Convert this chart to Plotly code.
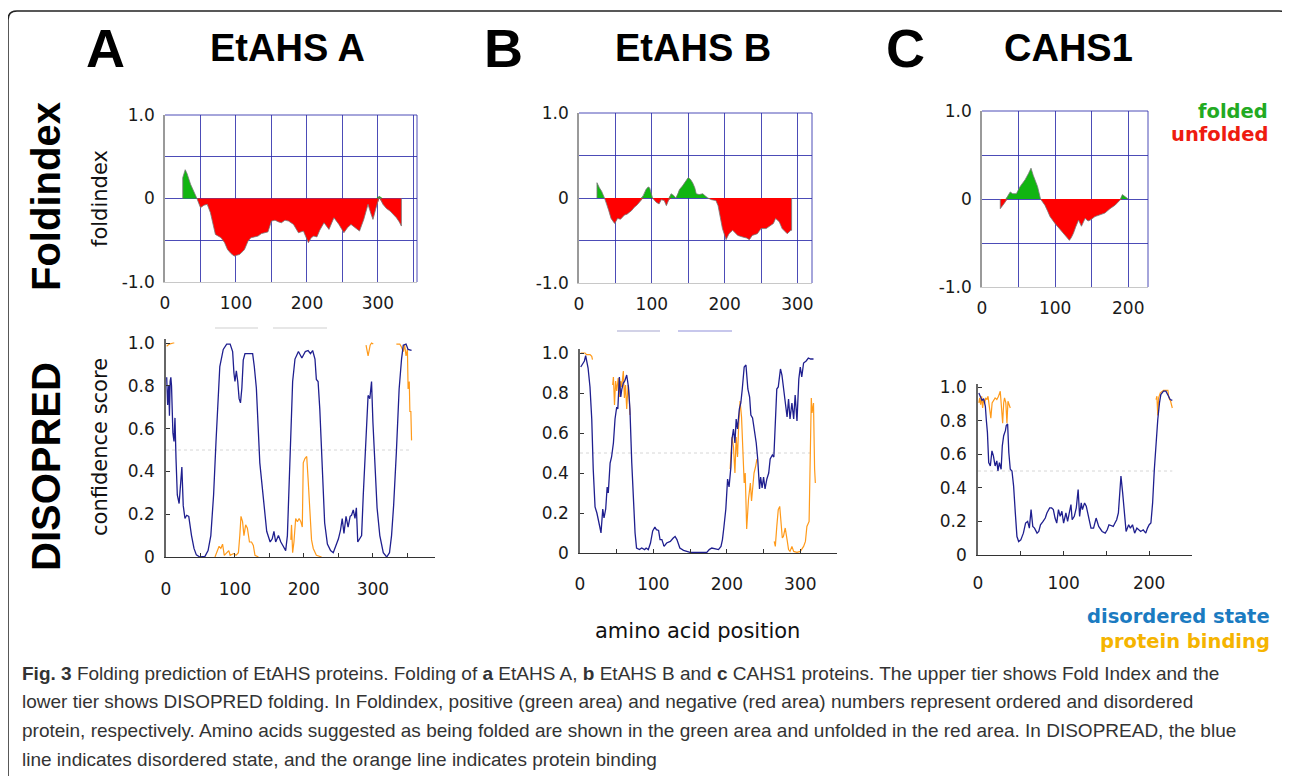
import plotly.graph_objects as go

W, H = 1290, 776
OFF = 8  # page body margin of the viewer
def px(x): return (x - OFF) / W
def py(y): return 1 - (y - OFF) / H

# ---------------- DATA ----------------
# Foldindex (residue, index)
fi_a_x = [25,25,28.5,31,36,40,45,50,55,59.5,64,71,75,79,84,88,93,97.6,101,105,110,112,117,121,126,131,136,140,145,150,155,160,164,169,174,181,188,195,202,206,209.5,214,218,224,228,231,238,245,252,257,262,268,274,280,286,290,293,297,302,307,312,317,322,326,330,333,333]
fi_a_y = [0,0.25,0.345,0.30,0.17,0.10,0,-0.11,-0.08,-0.07,-0.17,-0.43,-0.45,-0.47,-0.53,-0.61,-0.66,-0.69,-0.68,-0.67,-0.63,-0.61,-0.51,-0.47,-0.46,-0.45,-0.42,-0.41,-0.40,-0.27,-0.26,-0.28,-0.29,-0.26,-0.27,-0.31,-0.41,-0.39,-0.53,-0.47,-0.45,-0.46,-0.38,-0.29,-0.33,-0.37,-0.23,-0.31,-0.41,-0.35,-0.31,-0.35,-0.39,-0.25,-0.07,-0.18,-0.25,-0.12,0.03,-0.07,-0.12,-0.15,-0.19,-0.23,-0.28,-0.33,0]

fi_b_x = [24.7,24.7,28,31,35,38,41,44,47,49,53,57,62.5,66,69,72,76,80,85,88.6,92,95,97,99,101,106,110,113,117,120,123,126.5,130,133,136,138,142,145,150,153,156,159,161,165,170,174,177,182,188,191,193,197,202,206,211,215,218,225,230,234,238,245,250,257,263,267,270,275,279,286,291,292,292]
fi_b_y = [0,0.18,0.12,0.08,0,-0.07,-0.15,-0.24,-0.28,-0.30,-0.24,-0.25,-0.20,-0.19,-0.17,-0.15,-0.11,-0.08,-0.03,0.03,0.10,0.13,0.12,0.06,0,-0.05,-0.07,-0.02,-0.03,-0.09,-0.03,0.05,0.03,0,0.05,0.10,0.14,0.18,0.24,0.22,0.18,0.12,0.05,0.04,0.05,0.02,0,-0.02,-0.03,-0.09,-0.17,-0.36,-0.49,-0.42,-0.38,-0.41,-0.44,-0.46,-0.47,-0.49,-0.44,-0.42,-0.36,-0.36,-0.32,-0.30,-0.24,-0.28,-0.36,-0.42,-0.38,-0.38,0]

fi_c_x = [25,25,28.6,32,35,38.6,42,47,52,56,59,63.6,67,70,73,76,80,86,90,93,100,107,114,119.5,122,125,128,132,136,141,145,148,154.5,161,168,175,182,189,192,195,200]
fi_c_y = [0,-0.11,-0.07,-0.03,0.03,0.08,0.06,0.06,0.14,0.18,0.22,0.29,0.35,0.27,0.21,0.14,0,-0.07,-0.14,-0.20,-0.28,-0.35,-0.41,-0.47,-0.44,-0.39,-0.32,-0.24,-0.31,-0.22,-0.25,-0.24,-0.20,-0.18,-0.16,-0.11,-0.07,-0.01,0.05,0.03,0]

# DISOPRED disordered state (blue)
dis_a_x = [1,2.4,4,5,6,7,8,10,11.6,13,14.5,16.4,19,21,23,25,27.5,30,33,37,40.6,44,49,56.5,61,65,69,72.5,76,78,83,88,93,96.6,98.5,100,102,104,106,108,110,112,114.5,125.6,128,131,136,139,142,146,151,154,156.5,159,163,166.5,170,173.5,176,178,181,183.6,187,192,197,202,206,209.5,212.6,216,218,220.5,223,227,230,234,238.6,242.5,246,250,253,255.5,258,261,264,267,269,271.5,274,276,278,281,283.6,286,288,291,293,295.5,298,300,303,306,310,315,320,324,327,330,334,338,341.5,344,348,351,356]
dis_a_y = [0.84,0.71,0.80,0.66,0.82,0.84,0.80,0.58,0.54,0.65,0.46,0.29,0.25,0.35,0.42,0.24,0.18,0.195,0.19,0.10,0.04,0.01,0,0.003,0.03,0.10,0.29,0.54,0.77,0.89,0.97,0.995,0.995,0.96,0.86,0.82,0.87,0.82,0.74,0.72,0.79,0.92,0.95,0.95,0.89,0.79,0.44,0.35,0.23,0.12,0.07,0.085,0.12,0.07,0.10,0.07,0.05,0.03,0.10,0.29,0.58,0.82,0.925,0.96,0.93,0.96,0.965,0.95,0.965,0.925,0.83,0.82,0.69,0.40,0.16,0.06,0.03,0.02,0.05,0.085,0.125,0.18,0.11,0.19,0.14,0.19,0.195,0.22,0.18,0.23,0.07,0.085,0.10,0.29,0.44,0.66,0.755,0.74,0.82,0.63,0.43,0.23,0.10,0.02,0,0.02,0.10,0.24,0.49,0.785,0.925,0.99,0.995,0.97,0.965]

dis_b_x = [1,3.6,6,7.7,9,11,13.6,16,18,20.5,23,25,27,28.6,31,32.7,35,37,38.5,41,43,45.5,47.7,50,51.5,53.6,55.5,57,59,61,63.6,66,68,70.5,72.7,75,77,81,84,88,90,93,96,99,102,104,107,109,111.5,114.5,118,123,127,129.5,132,134,136,141,146,150,172.7,176,179.5,184,188.6,192,194,196,198.6,201,203,205.5,207,209,211,212.7,214.5,217,219,221,223.6,226,228.6,231,232.7,235,237,240,242,243,244.5,246,248,250,252,254.5,257,259,262,264,266,268,270,273,275,277,279.5,282,284,286,288.6,291,293,295.5,298,300,302,304.5,308,311,314,318]
dis_b_y = [0.93,0.95,0.96,0.987,0.96,0.925,0.83,0.67,0.42,0.23,0.20,0.17,0.13,0.10,0.22,0.175,0.22,0.33,0.30,0.45,0.48,0.55,0.67,0.73,0.72,0.88,0.78,0.82,0.85,0.86,0.89,0.83,0.72,0.45,0.23,0.10,0.025,0.017,0.025,0.017,0.025,0.017,0.05,0.11,0.13,0.117,0.113,0.067,0.067,0.033,0.05,0.058,0.075,0.083,0.067,0.05,0.025,0.013,0.008,0.003,0.003,0.017,0.025,0.02,0.017,0.033,0.067,0.13,0.22,0.37,0.33,0.43,0.57,0.62,0.55,0.67,0.62,0.72,0.75,0.82,0.93,0.94,0.82,0.78,0.69,0.675,0.63,0.55,0.47,0.37,0.32,0.38,0.325,0.38,0.32,0.37,0.40,0.47,0.49,0.48,0.67,0.82,0.83,0.92,0.89,0.83,0.75,0.68,0.77,0.67,0.75,0.67,0.79,0.66,0.87,0.93,0.88,0.95,0.96,0.975,0.97,0.97]

dis_c_x = [1,3,4.7,6.6,8.6,9.7,11,12.5,14.4,16.3,18,20,22,23.3,25,27,28.4,30,32,33,34.6,36,37.7,39.7,41.6,43.6,45.5,47.5,50,53,55.6,58,60,62,64,66,69,71,73,76,78.6,80.5,83.7,86,88,90,92,94,96,98,100,102.7,104.7,106.6,108.6,110,112.5,114.8,117,118.7,120.6,122,124.5,126.5,129,132,135,138,141,145,148.6,151,153,155.5,158,160,162,164,165.4,167,169,171,173,176,178,180.5,183,185.6,188,190,193,196,198,200,202,204,206,208,210,212,213.6,216.7,219.5,222.6,224.5,227]
dis_c_y = [0.965,0.945,0.92,0.93,0.885,0.805,0.73,0.55,0.53,0.62,0.59,0.53,0.56,0.50,0.55,0.51,0.65,0.71,0.74,0.77,0.78,0.61,0.51,0.50,0.41,0.25,0.11,0.08,0.09,0.13,0.19,0.20,0.16,0.27,0.17,0.16,0.13,0.14,0.18,0.20,0.22,0.25,0.28,0.28,0.27,0.22,0.19,0.27,0.23,0.26,0.19,0.25,0.20,0.25,0.30,0.21,0.23,0.28,0.39,0.23,0.31,0.27,0.31,0.29,0.23,0.16,0.16,0.22,0.17,0.14,0.13,0.15,0.18,0.175,0.17,0.19,0.21,0.25,0.35,0.47,0.37,0.23,0.14,0.18,0.16,0.18,0.13,0.16,0.15,0.14,0.15,0.13,0.16,0.18,0.19,0.31,0.51,0.67,0.805,0.905,0.955,0.975,0.975,0.945,0.925,0.92]

# DISOPRED protein binding (orange); None separates segments
bind_a_x = [1,4.7,10.6,12,None,71,74,77,79.5,82,84.5,88,91,93,98,101.5,105,107,108.7,111,113,115.5,118,121,124,126.6,129,134,None,181,182,183.6,185.5,188,190.5,193,195.5,197.6,199,201.4,204,206,208.7,211,213.5,218,225.6,None,290,293,296,298,300.5,None,334,339,341.5,344,346,348,350,351,352.7,353.6,355,356]
bind_a_y = [0.985,0.995,1.0,1.0,None,0,0.03,0.05,0.04,0.06,0.008,0.02,0.03,0.008,0.016,0.008,0.02,0.10,0.19,0.165,0.10,0.15,0.135,0.07,0.07,0.054,0.008,0,None,0.08,0.15,0.02,0.07,0.18,0.165,0.18,0.165,0.14,0.44,0.46,0.47,0.365,0.225,0.08,0.04,0.008,0,None,0.99,0.94,0.99,1.0,0.995,None,0.995,0.995,0.98,0.96,0.99,0.94,0.97,0.785,0.82,0.68,0.68,0.545]

bind_b_x = [1,4.5,6.8,9,13.6,16,17,None,44.5,45.5,47,48.5,50,52,53.6,55.5,56.8,59,60.5,62,63.6,65.5,67,68,None,204.5,207,209,211,212.7,214.5,216,218,220,222,223.6,225,227,229.5,232,233.6,235,237,239,241,None,264.5,266,268,270,272,273.6,275.5,277,279.5,282,284,286,288.6,291,295.5,300,304.5,307,309,312,313.6,315,316,318,319.5,320.5]
bind_b_y = [1.0,1.0,1.0,0.992,0.992,0.983,0.967,None,0.84,0.88,0.74,0.86,0.81,0.875,0.78,0.86,0.83,0.91,0.775,0.84,0.72,0.84,0.78,0.69,None,0.42,0.58,0.53,0.40,0.58,0.48,0.63,0.76,0.68,0.47,0.35,0.40,0.12,0.27,0.35,0.26,0.33,0.40,0.43,0.47,None,0.058,0.033,0.133,0.217,0.233,0.167,0.075,0.083,0.125,0.067,0.017,0.008,0.033,0.008,0.003,0.008,0.033,0.058,0.133,0.158,0.5,0.775,0.70,0.75,0.42,0.35]

bind_c_x = [1,2,3.1,4.3,5.4,6.6,7.8,9,10.5,11.7,13.2,15,16.5,18,20,22,24,26,27,28.8,30,31,32.5,33.8,35,36.5,37.7,None,208,209,210,211,213,215,216.7,219.8,221.8,223,225,227]
bind_c_y = [0.905,0.935,0.895,0.945,0.875,0.925,0.905,0.935,0.925,0.945,0.885,0.815,0.905,0.915,0.935,0.925,0.945,0.975,0.885,0.785,0.905,0.935,0.905,0.785,0.915,0.895,0.875,None,0.925,0.945,0.83,0.935,0.965,0.975,0.98,0.98,0.98,0.935,0.915,0.875]

# threshold lines (DISOPRED cut-off 0.5)
thr_a_x, thr_b_x, thr_c_x = [0, 356], [0, 320], [0, 227]
thr_y = [0.5, 0.5]

# tick labels
fi_y_vals = [-1, -0.5, 0, 0.5, 1]
fi_y_text = ["-1.0", "", "0", "", "1.0"]
dis_y_vals = [0, 0.2, 0.4, 0.6, 0.8, 1.0]
dis_y_text = ["0", "0.2", "0.4", "0.6", "0.8", "1.0"]

# ---------------- STYLE ----------------
GRID = "rgba(45,45,170,0.85)"
BLUE = "#1f1f8f"
ORANGE = "#ff9a1a"
GREEN = "#11b511"
RED = "#ff0000"
TICKFONT = dict(family="DejaVu Sans", size=17, color="#1a1a1a")

fig = go.Figure()
layout = dict(template="none", width=W, height=H, autosize=False,
              margin=dict(l=0, r=0, t=0, b=0, pad=0, autoexpand=False),
              paper_bgcolor="white", plot_bgcolor="white", showlegend=False)
shapes = []

def sfx(n):
    return "" if n == 1 else str(n)

def xticks(xmax):
    vals = list(range(0, int(xmax) + 1, 50))
    text = [str(v) if v % 100 == 0 else "" for v in vals]
    return vals, text

# Foldindex panels: (n, x0px, x1px, y0px(top), y1px(bottom), xmax, xs, ys)
fi_panels = [
    (1, 165, 417, 115, 282, 355, fi_a_x, fi_a_y),
    (2, 579, 812, 113, 283, 320, fi_b_x, fi_b_y),
    (3, 982, 1148, 111, 287, 227, fi_c_x, fi_c_y),
]
for n, x0, x1, y0, y1, xmax, xs, ys in fi_panels:
    xa, ya = "x" + sfx(n), "y" + sfx(n)
    pos = [max(v, 0) for v in ys]
    neg = [min(v, 0) for v in ys]
    fig.add_trace(go.Scatter(x=xs, y=pos, mode="lines", fill="tozeroy", fillcolor=GREEN,
                             line=dict(width=0, color=GREEN), xaxis=xa, yaxis=ya, hoverinfo="skip"))
    fig.add_trace(go.Scatter(x=xs, y=neg, mode="lines", fill="tozeroy", fillcolor=RED,
                             line=dict(width=0, color=RED), xaxis=xa, yaxis=ya, hoverinfo="skip"))
    fig.add_trace(go.Scatter(x=xs, y=ys, mode="lines", line=dict(width=1, color="rgba(120,120,120,0.8)"),
                             xaxis=xa, yaxis=ya, hoverinfo="skip"))
    tv, tt = xticks(xmax)
    layout["xaxis" + sfx(n)] = dict(domain=[px(x0), px(x1)], range=[0, xmax], anchor=ya, automargin=False,
                               tickvals=tv, ticktext=tt, showgrid=True, gridcolor=GRID, gridwidth=1,
                               zeroline=False, showline=True, linecolor="#c8c8c8", linewidth=1,
                               ticks="", tickfont=TICKFONT, ticklabelstandoff=6, layer="below traces")
    layout["yaxis" + sfx(n)] = dict(domain=[py(y1), py(y0)], range=[-1, 1], anchor=xa, automargin=False,
                               tickvals=fi_y_vals, ticktext=fi_y_text, showgrid=True, gridcolor=GRID,
                               zeroline=False, showline=True, linecolor="#9a9a9a", linewidth=1.5,
                               ticks="", tickfont=TICKFONT, ticklabelstandoff=5)
    shapes.append(dict(type="line", xref=f"{xa} domain", yref=f"{ya} domain", x0=0, x1=1, y0=1, y1=1,
                       line=dict(color=GRID, width=1)))
    shapes.append(dict(type="line", xref=f"{xa} domain", yref=f"{ya} domain", x0=1, x1=1, y0=0, y1=1,
                       line=dict(color=GRID, width=1)))

# DISOPRED panels
dis_panels = [
    (4, 166, 435, 557, 343, 390, dis_a_x, dis_a_y, bind_a_x, bind_a_y, thr_a_x, 16),
    (5, 580, 837, 553, 353, 350, dis_b_x, dis_b_y, bind_b_x, bind_b_y, thr_b_x, 15),
    (6, 978, 1192, 555, 387, 250, dis_c_x, dis_c_y, bind_c_x, bind_c_y, thr_c_x, 12),
]
YTOP = 1.02
for n, x0, x1, zpx, opx, xmax, bx, by, ox, oy, tx, stand in dis_panels:
    xa, ya = "x" + sfx(n), "y" + sfx(n)
    top_px = zpx - YTOP * (zpx - opx)
    fig.add_trace(go.Scatter(x=tx, y=thr_y, mode="lines", line=dict(width=1, color="#d6d6d6", dash="dot"),
                             xaxis=xa, yaxis=ya, hoverinfo="skip"))
    fig.add_trace(go.Scatter(x=ox, y=oy, mode="lines", line=dict(width=1.2, color=ORANGE),
                             connectgaps=False, xaxis=xa, yaxis=ya, hoverinfo="skip"))
    fig.add_trace(go.Scatter(x=bx, y=by, mode="lines", line=dict(width=1.3, color=BLUE),
                             xaxis=xa, yaxis=ya, hoverinfo="skip"))
    tv, tt = xticks(xmax)
    layout["xaxis" + sfx(n)] = dict(domain=[px(x0), px(x1)], range=[0, xmax], anchor=ya, automargin=False,
                               tickvals=tv, ticktext=tt, showgrid=False, zeroline=False,
                               showline=True, linecolor="#333", linewidth=1.2,
                               ticks="inside", ticklen=4, tickcolor="#333",
                               tickfont=TICKFONT, ticklabelstandoff=stand)
    layout["yaxis" + sfx(n)] = dict(domain=[py(zpx), py(top_px)], range=[0, YTOP], anchor=xa, automargin=False,
                               tickvals=dis_y_vals, ticktext=dis_y_text, showgrid=False, zeroline=False,
                               showline=True, linecolor="#666", linewidth=1.5,
                               ticks="inside", ticklen=4, tickcolor="#333",
                               tickfont=TICKFONT, ticklabelstandoff=6)

# faint leftover legend marks above DISOPRED A and B
for (a, b, yy, c) in [(215, 258, 328, "rgba(200,200,200,0.6)"), (273, 327, 328, "rgba(200,200,200,0.6)"),
                      (617, 660, 331, "rgba(170,170,210,0.7)"), (678, 732, 331, "rgba(150,150,220,0.7)")]:
    shapes.append(dict(type="line", xref="paper", yref="paper", x0=px(a), x1=px(b), y0=py(yy), y1=py(yy),
                       line=dict(color=c, width=1.5)))

# rounded frame
r = 9
fx0, fx1, fy0, fy1 = 8, 1288, 11, 790
path = (f"M {px(fx0)},{py(fy1)} L {px(fx0)},{py(fy0 + r)} Q {px(fx0)},{py(fy0)} {px(fx0 + r)},{py(fy0)} "
        f"L {px(fx1 - r)},{py(fy0)} Q {px(fx1)},{py(fy0)} {px(fx1)},{py(fy0 + r)} L {px(fx1)},{py(fy1)}")
shapes.append(dict(type="path", xref="paper", yref="paper", path=path, line=dict(color="#222", width=1.5)))

ann = []
def text(x, y, s, size, family="DejaVu Sans", color="#111", xanchor="center", angle=0, yanchor="middle"):
    ann.append(dict(x=px(x), y=py(y), xref="paper", yref="paper", text=s, showarrow=False,
                    xanchor=xanchor, yanchor=yanchor, textangle=angle,
                    font=dict(family=family, size=size, color=color)))

HEAD = "Liberation Sans, Arial"
for x, s in [(105, "<b>A</b>"), (503, "<b>B</b>"), (905, "<b>C</b>")]:
    text(x, 48, s, 54, HEAD, "#000")
for x, s in [(287, "<b>EtAHS A</b>"), (693, "<b>EtAHS B</b>"), (1068, "<b>CAHS1</b>")]:
    text(x, 48, s, 38, HEAD, "#000")

text(46, 197, "<b>Foldindex</b>", 40, HEAD, "#000", angle=-90)
text(46, 467, "<b>DISOPRED</b>", 40, HEAD, "#000", angle=-90)
text(100, 199, "foldindex", 21, angle=-90)
text(100, 447, "confidence score", 21, angle=-90)
text(697, 631, "amino acid position", 21)

text(1270, 112, "<b>folded</b>", 19.5, color="#22aa22", xanchor="right")
text(1270, 135, "<b>unfolded</b>", 19.5, color="#ee1c10", xanchor="right")
text(1272, 616, "<b>disordered state</b>", 19.5, color="#1b7bc1", xanchor="right")
text(1272, 641, "<b>protein binding</b>", 19.5, color="#f5b400", xanchor="right")

CAP = "Liberation Sans Narrow, Arial Narrow, Liberation Sans"
cap_lines = [
    "<b>Fig. 3</b> Folding prediction of EtAHS proteins. Folding of <b>a</b> EtAHS A, <b>b</b> EtAHS B and <b>c</b> CAHS1 proteins. The upper tier shows Fold Index and the",
    "lower tier shows DISOPRED folding. In Foldindex, positive (green area) and negative (red area) numbers represent ordered and disordered",
    "protein, respectively. Amino acids suggested as being folded are shown in the green area and unfolded in the red area. In DISOPREAD, the blue",
    "line indicates disordered state, and the orange line indicates protein binding",
]
for i, s in enumerate(cap_lines):
    text(20, 673 + 28.7 * i, s, 19, CAP, "#333", xanchor="left")

layout["annotations"] = ann
layout["shapes"] = shapes
fig.update_layout(**layout)
fig.write_html("out.html")
